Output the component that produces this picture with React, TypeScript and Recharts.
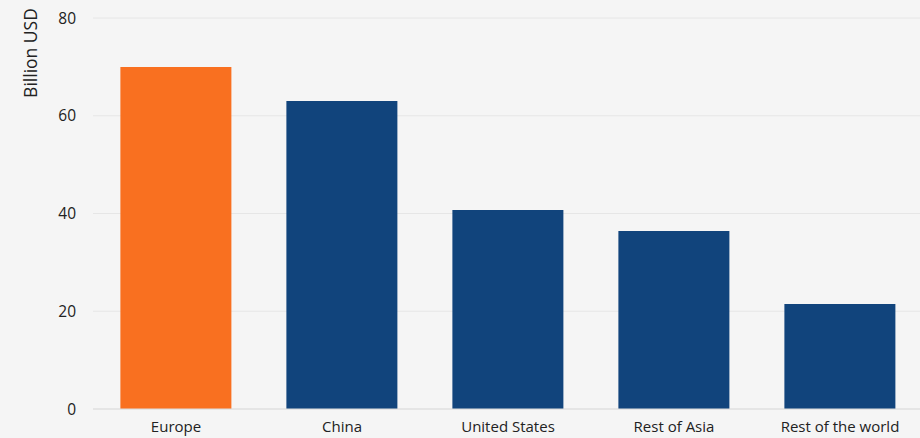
import { BarChart, Bar, XAxis, YAxis, CartesianGrid, Cell, Label } from "recharts";

const regions = ["Europe", "China", "United States", "Rest of Asia", "Rest of the world"];
const investment = [70, 63, 40.7, 36.4, 21.5];
const yTicks = [0, 20, 40, 60, 80];
const highlight = "Europe";

const data = regions.map((name, i) => ({ name, value: investment[i] }));

const ORANGE = "#f97020";
const BLUE = "#11447c";
const FONT = "'Open Sans', sans-serif";

export default function App() {
  return (
    <div
      style={{
        position: "absolute",
        left: 0,
        top: 0,
        width: 920,
        height: 438,
        overflow: "hidden",
        background: "#f5f5f5",
        fontFamily: FONT,
      }}
    >
      <BarChart
        width={920}
        height={438}
        data={data}
        margin={{ top: 18, right: -3, bottom: 0, left: 0 }}
        barCategoryGap="16.5%"
      >
        <CartesianGrid vertical={false} stroke="#e6e6e6" />
        <XAxis
          dataKey="name"
          height={29}
          tickLine={false}
          axisLine={{ stroke: "#dddddd" }}
          tick={{ fill: "#222", fontSize: 15, fontFamily: FONT }}
          tickMargin={6}
          interval={0}
        />
        <YAxis
          width={93}
          domain={[0, 80]}
          ticks={yTicks}
          tickLine={false}
          axisLine={false}
          tick={{ fill: "#222", fontSize: 15.5, fontFamily: FONT }}
          tickMargin={11}
        >
          <Label
            content={() => (
              <text
                x={0}
                y={0}
                transform="translate(37, 53) rotate(-90)"
                textAnchor="middle"
                fill="#222"
                fontSize={17.5}
                fontFamily={FONT}
                fontWeight={500}
              >
                Billion USD
              </text>
            )}
          />
        </YAxis>
        <Bar dataKey="value" isAnimationActive={false}>
          {data.map((d) => (
            <Cell key={d.name} fill={d.name === highlight ? ORANGE : BLUE} />
          ))}
        </Bar>
      </BarChart>
    </div>
  );
}
